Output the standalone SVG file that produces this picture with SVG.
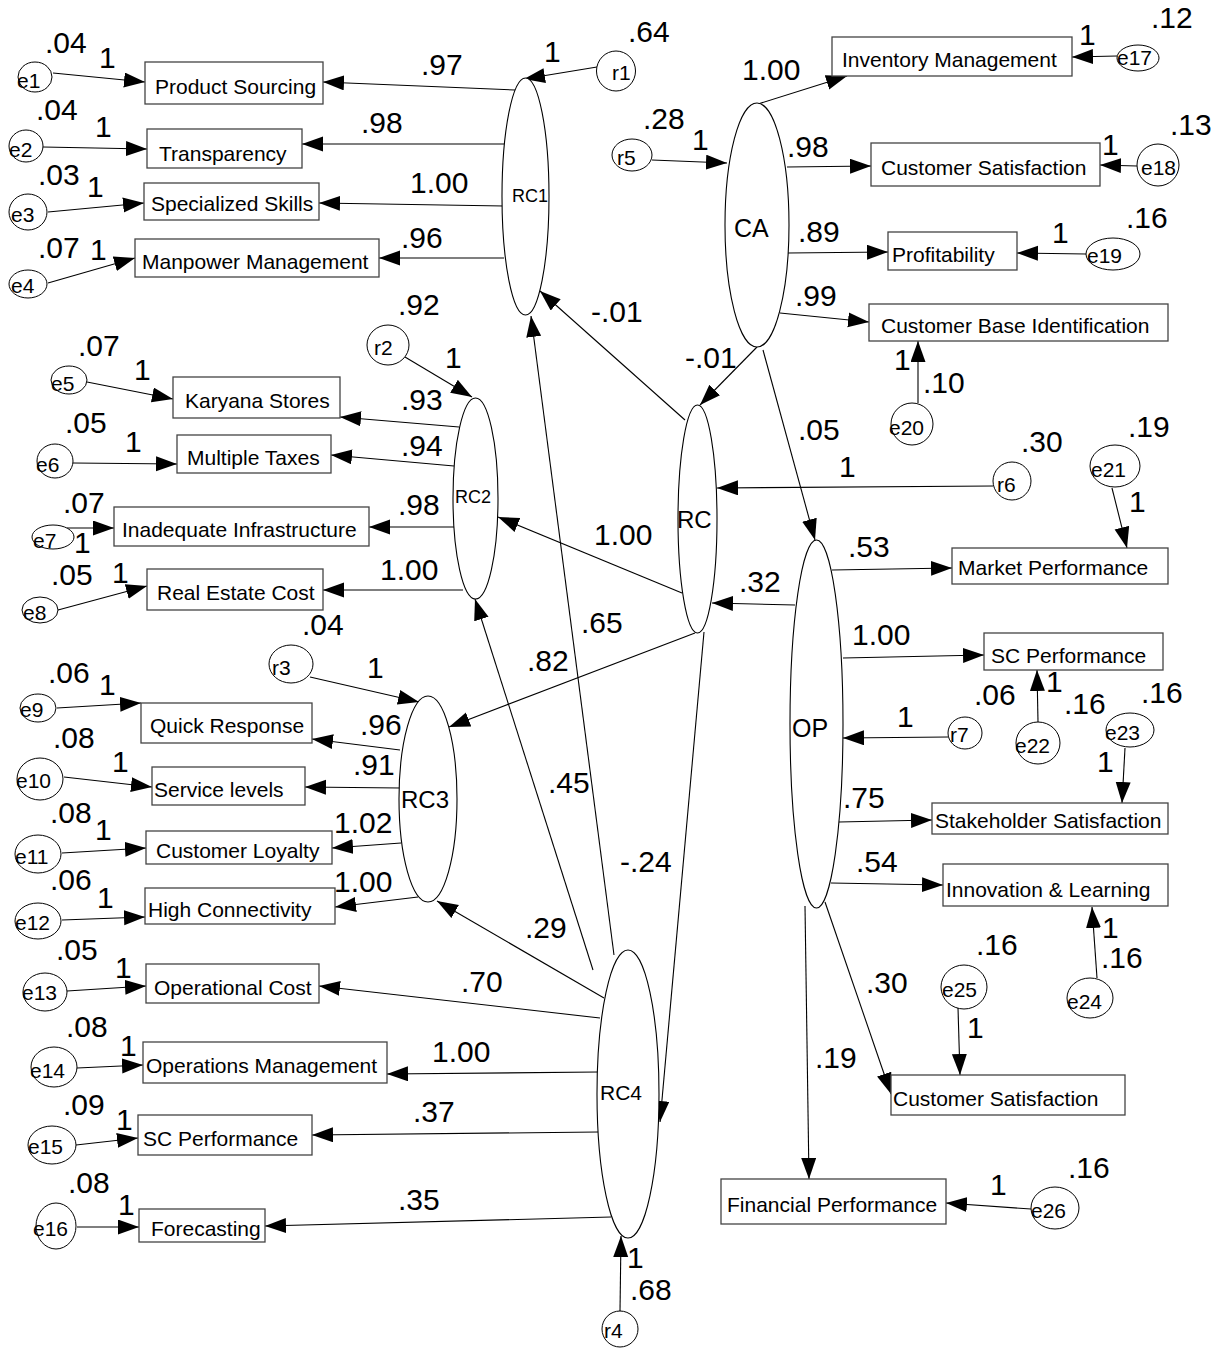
<svg xmlns="http://www.w3.org/2000/svg" width="1228" height="1349" viewBox="0 0 1228 1349">
<style>
.box{fill:#fff;stroke:#444;stroke-width:1.3}
.lat{fill:#fff;stroke:#000;stroke-width:1.1}
.err{fill:#fff;stroke:#000;stroke-width:1}
.edge{stroke:#000;stroke-width:1.1;fill:none;marker-end:url(#ah)}
text{font-family:"Liberation Sans",Arial,sans-serif;fill:#000}
.t{font-size:21px}
.e{font-size:21px}
.n{font-size:30px}
</style>
<defs>
<marker id="ah" markerUnits="userSpaceOnUse" markerWidth="22" markerHeight="16" refX="21" refY="7.5" orient="auto">
<path d="M0,0 L21,7.5 L0,15 z" fill="#000"/>
</marker>
</defs>
<rect width="1228" height="1349" fill="#fff"/>
<g id="connectors">
<line class="edge" x1="53" y1="73" x2="145" y2="82"/>
<line class="edge" x1="43" y1="147" x2="147" y2="149"/>
<line class="edge" x1="48" y1="212" x2="144" y2="203"/>
<line class="edge" x1="48" y1="283" x2="135" y2="258"/>
<line class="edge" x1="515" y1="90" x2="323" y2="82"/>
<line class="edge" x1="504" y1="144" x2="302" y2="144"/>
<line class="edge" x1="504" y1="206" x2="319" y2="203"/>
<line class="edge" x1="504" y1="258" x2="379" y2="258"/>
<line class="edge" x1="597" y1="67" x2="524" y2="79"/>
<line class="edge" x1="652" y1="160" x2="727" y2="163"/>
<line class="edge" x1="758" y1="104" x2="847" y2="76"/>
<line class="edge" x1="787" y1="167" x2="871" y2="166"/>
<line class="edge" x1="788" y1="253" x2="888" y2="252"/>
<line class="edge" x1="780" y1="313" x2="869" y2="322"/>
<line class="edge" x1="1117" y1="56" x2="1072" y2="57"/>
<line class="edge" x1="1137" y1="166" x2="1100" y2="165"/>
<line class="edge" x1="1086" y1="254" x2="1017" y2="253"/>
<line class="edge" x1="918" y1="403" x2="918" y2="341"/>
<line class="edge" x1="757" y1="347" x2="700" y2="405"/>
<line class="edge" x1="685" y1="420" x2="540" y2="291"/>
<line class="edge" x1="682" y1="593" x2="498" y2="517"/>
<line class="edge" x1="993" y1="486" x2="717" y2="488"/>
<line class="edge" x1="1112" y1="488" x2="1127" y2="548"/>
<line class="edge" x1="763" y1="350" x2="815" y2="540"/>
<line class="edge" x1="832" y1="570" x2="952" y2="568"/>
<line class="edge" x1="843" y1="658" x2="984" y2="655"/>
<line class="edge" x1="1038" y1="722" x2="1037" y2="670"/>
<line class="edge" x1="948" y1="737" x2="843" y2="738"/>
<line class="edge" x1="1125" y1="748" x2="1122" y2="803"/>
<line class="edge" x1="839" y1="822" x2="932" y2="820"/>
<line class="edge" x1="831" y1="883" x2="943" y2="885"/>
<line class="edge" x1="1097" y1="978" x2="1092" y2="907"/>
<line class="edge" x1="958" y1="1008" x2="960" y2="1075"/>
<line class="edge" x1="825" y1="902" x2="891" y2="1094"/>
<line class="edge" x1="805" y1="906" x2="809" y2="1179"/>
<line class="edge" x1="1031" y1="1209" x2="946" y2="1203"/>
<line class="edge" x1="795" y1="605" x2="712" y2="603"/>
<line class="edge" x1="405" y1="357" x2="472" y2="397"/>
<line class="edge" x1="459" y1="427" x2="340" y2="417"/>
<line class="edge" x1="454" y1="466" x2="331" y2="455"/>
<line class="edge" x1="454" y1="527" x2="369" y2="527"/>
<line class="edge" x1="463" y1="590" x2="323" y2="590"/>
<line class="edge" x1="87" y1="382" x2="173" y2="399"/>
<line class="edge" x1="73" y1="463" x2="177" y2="464"/>
<line class="edge" x1="67" y1="528" x2="114" y2="528"/>
<line class="edge" x1="58" y1="610" x2="147" y2="586"/>
<line class="edge" x1="310" y1="677" x2="419" y2="702"/>
<line class="edge" x1="695" y1="633" x2="449" y2="727"/>
<line class="edge" x1="400" y1="750" x2="312" y2="739"/>
<line class="edge" x1="400" y1="788" x2="305" y2="787"/>
<line class="edge" x1="401" y1="843" x2="332" y2="848"/>
<line class="edge" x1="418" y1="897" x2="335" y2="907"/>
<line class="edge" x1="57" y1="708" x2="141" y2="703"/>
<line class="edge" x1="64" y1="777" x2="152" y2="787"/>
<line class="edge" x1="62" y1="853" x2="146" y2="848"/>
<line class="edge" x1="62" y1="920" x2="145" y2="917"/>
<line class="edge" x1="620" y1="1311" x2="621" y2="1236"/>
<line class="edge" x1="600" y1="1018" x2="319" y2="986"/>
<line class="edge" x1="598" y1="1072" x2="387" y2="1074"/>
<line class="edge" x1="598" y1="1132" x2="312" y2="1135"/>
<line class="edge" x1="611" y1="1217" x2="265" y2="1226"/>
<line class="edge" x1="67" y1="991" x2="146" y2="986"/>
<line class="edge" x1="77" y1="1068" x2="143" y2="1065"/>
<line class="edge" x1="76" y1="1145" x2="138" y2="1138"/>
<line class="edge" x1="77" y1="1227" x2="139" y2="1227"/>
<line class="edge" x1="604" y1="998" x2="437" y2="901"/>
<line class="edge" x1="593" y1="970" x2="475" y2="599"/>
<line class="edge" x1="614" y1="955" x2="531" y2="316"/>
<line class="edge" x1="704" y1="632" x2="660" y2="1122"/>
</g>
<g id="nodes">
<g id="n-ps"><rect class="box" x="145" y="62" width="178" height="42"/><text class="t" x="155" y="94">Product Sourcing</text></g>
<g id="n-tr"><rect class="box" x="147" y="129" width="155" height="39"/><text class="t" x="159" y="161">Transparency</text></g>
<g id="n-ss"><rect class="box" x="144" y="183" width="175" height="37"/><text class="t" x="151" y="211">Specialized Skills</text></g>
<g id="n-mm"><rect class="box" x="135" y="239" width="244" height="38"/><text class="t" x="142" y="269">Manpower Management</text></g>
<g id="n-im"><rect class="box" x="832" y="37" width="240" height="39"/><text class="t" x="842" y="67">Inventory Management</text></g>
<g id="n-cs"><rect class="box" x="871" y="143" width="229" height="43"/><text class="t" x="881" y="175">Customer Satisfaction</text></g>
<g id="n-pr"><rect class="box" x="888" y="232" width="129" height="38"/><text class="t" x="892" y="262">Profitability</text></g>
<g id="n-cbi"><rect class="box" x="869" y="304" width="299" height="37"/><text class="t" x="881" y="333">Customer Base Identification</text></g>
<g id="n-mp"><rect class="box" x="952" y="548" width="216" height="36"/><text class="t" x="958" y="575">Market Performance</text></g>
<g id="n-scp"><rect class="box" x="984" y="633" width="179" height="37"/><text class="t" x="991" y="663">SC Performance</text></g>
<g id="n-sts"><rect class="box" x="932" y="803" width="236" height="31"/><text class="t" x="935" y="828">Stakeholder Satisfaction</text></g>
<g id="n-il"><rect class="box" x="943" y="864" width="225" height="42"/><text class="t" x="946" y="897">Innovation &amp; Learning</text></g>
<g id="n-cs2"><rect class="box" x="891" y="1075" width="234" height="40"/><text class="t" x="893" y="1106">Customer Satisfaction</text></g>
<g id="n-fp"><rect class="box" x="721" y="1179" width="225" height="45"/><text class="t" x="727" y="1212">Financial Performance</text></g>
<g id="n-ks"><rect class="box" x="173" y="377" width="167" height="41"/><text class="t" x="185" y="408">Karyana Stores</text></g>
<g id="n-mt"><rect class="box" x="177" y="435" width="154" height="38"/><text class="t" x="187" y="465">Multiple Taxes</text></g>
<g id="n-ii"><rect class="box" x="114" y="507" width="255" height="39"/><text class="t" x="122" y="537">Inadequate Infrastructure</text></g>
<g id="n-rec"><rect class="box" x="147" y="569" width="176" height="41"/><text class="t" x="157" y="600">Real Estate Cost</text></g>
<g id="n-qr"><rect class="box" x="141" y="703" width="171" height="40"/><text class="t" x="150" y="733">Quick Response</text></g>
<g id="n-sl"><rect class="box" x="152" y="767" width="153" height="38"/><text class="t" x="154" y="797">Service levels</text></g>
<g id="n-cl"><rect class="box" x="146" y="831" width="186" height="33"/><text class="t" x="156" y="858">Customer Loyalty</text></g>
<g id="n-hc"><rect class="box" x="145" y="888" width="190" height="36"/><text class="t" x="148" y="917">High Connectivity</text></g>
<g id="n-oc"><rect class="box" x="146" y="964" width="173" height="39"/><text class="t" x="154" y="995">Operational Cost</text></g>
<g id="n-om"><rect class="box" x="143" y="1042" width="244" height="41"/><text class="t" x="146" y="1073">Operations Management</text></g>
<g id="n-scp2"><rect class="box" x="138" y="1115" width="174" height="40"/><text class="t" x="143" y="1146">SC Performance</text></g>
<g id="n-fc"><rect class="box" x="139" y="1209" width="126" height="33"/><text class="t" x="151" y="1236">Forecasting</text></g>

<g id="n-rc1"><ellipse class="lat" cx="525.5" cy="196.5" rx="23.5" ry="118.5"/><text x="512" y="202" font-size="18">RC1</text></g>
<g id="n-ca"><ellipse class="lat" cx="757" cy="225" rx="32" ry="122"/><text x="734" y="237" font-size="25">CA</text></g>
<g id="n-rc"><ellipse class="lat" cx="697.5" cy="519" rx="19.5" ry="114"/><text x="677" y="528" font-size="24">RC</text></g>
<g id="n-rc2"><ellipse class="lat" cx="475.5" cy="498.5" rx="22.5" ry="100.5"/><text x="455" y="503" font-size="18">RC2</text></g>
<g id="n-rc3"><ellipse class="lat" cx="428" cy="799" rx="29" ry="103"/><text x="401" y="808" font-size="24">RC3</text></g>
<g id="n-op"><ellipse class="lat" cx="816.5" cy="724" rx="26.5" ry="184"/><text x="792" y="737" font-size="25">OP</text></g>
<g id="n-rc4"><ellipse class="lat" cx="628" cy="1094" rx="31" ry="144"/><text x="600" y="1100" font-size="21">RC4</text></g>

<g id="n-e1"><ellipse class="err" cx="35" cy="77" rx="17" ry="15"/><text class="e" x="17" y="88">e1</text></g>
<g id="n-e2"><ellipse class="err" cx="26" cy="146" rx="17" ry="16"/><text class="e" x="9" y="157">e2</text></g>
<g id="n-e3"><ellipse class="err" cx="28" cy="212" rx="19" ry="18"/><text class="e" x="11" y="222">e3</text></g>
<g id="n-e4"><ellipse class="err" cx="28" cy="284" rx="19" ry="14"/><text class="e" x="11" y="293">e4</text></g>
<g id="n-r1"><ellipse class="err" cx="616" cy="71" rx="19.5" ry="20"/><text class="e" x="612" y="80">r1</text></g>
<g id="n-r5"><ellipse class="err" cx="632" cy="155" rx="20" ry="16"/><text class="e" x="617" y="165">r5</text></g>
<g id="n-e17"><ellipse class="err" cx="1138" cy="58" rx="21" ry="13"/><text class="e" x="1117" y="65">e17</text></g>
<g id="n-e18"><ellipse class="err" cx="1158" cy="165" rx="21" ry="21"/><text class="e" x="1141" y="175">e18</text></g>
<g id="n-e19"><ellipse class="err" cx="1113" cy="254" rx="27" ry="16"/><text class="e" x="1087" y="263">e19</text></g>
<g id="n-e20"><ellipse class="err" cx="912" cy="424" rx="21" ry="21"/><text class="e" x="889" y="435">e20</text></g>
<g id="n-r6"><ellipse class="err" cx="1012" cy="481" rx="19" ry="19"/><text class="e" x="997" y="492">r6</text></g>
<g id="n-e21"><ellipse class="err" cx="1115" cy="466" rx="25" ry="21"/><text class="e" x="1091" y="477">e21</text></g>
<g id="n-r2"><ellipse class="err" cx="388" cy="345" rx="21" ry="20"/><text class="e" x="374" y="355">r2</text></g>
<g id="n-e5"><ellipse class="err" cx="69" cy="380" rx="18" ry="14"/><text class="e" x="51" y="391">e5</text></g>
<g id="n-e6"><ellipse class="err" cx="55" cy="461" rx="18" ry="17"/><text class="e" x="36" y="472">e6</text></g>
<g id="n-e7"><ellipse class="err" cx="53" cy="537" rx="21" ry="12"/><text class="e" x="33" y="548">e7</text></g>
<g id="n-e8"><ellipse class="err" cx="40" cy="610" rx="18" ry="13"/><text class="e" x="23" y="620">e8</text></g>
<g id="n-r3"><ellipse class="err" cx="291" cy="664" rx="22" ry="19"/><text class="e" x="272" y="675">r3</text></g>
<g id="n-e9"><ellipse class="err" cx="38" cy="708" rx="18" ry="14"/><text class="e" x="20" y="717">e9</text></g>
<g id="n-e10"><ellipse class="err" cx="40" cy="779" rx="23" ry="21"/><text class="e" x="16" y="788">e10</text></g>
<g id="n-e11"><ellipse class="err" cx="38" cy="854" rx="23" ry="19"/><text class="e" x="15" y="864">e11</text></g>
<g id="n-e12"><ellipse class="err" cx="38" cy="921" rx="23" ry="18"/><text class="e" x="15" y="930">e12</text></g>
<g id="n-e13"><ellipse class="err" cx="45" cy="992" rx="22" ry="19"/><text class="e" x="22" y="1000">e13</text></g>
<g id="n-e14"><ellipse class="err" cx="54" cy="1067" rx="23" ry="20"/><text class="e" x="30" y="1078">e14</text></g>
<g id="n-e15"><ellipse class="err" cx="52" cy="1145" rx="24" ry="19"/><text class="e" x="28" y="1154">e15</text></g>
<g id="n-e16"><ellipse class="err" cx="56" cy="1226" rx="20" ry="23"/><text class="e" x="33" y="1236">e16</text></g>
<g id="n-r7"><ellipse class="err" cx="965" cy="733" rx="17" ry="16"/><text class="e" x="950" y="742">r7</text></g>
<g id="n-e22"><ellipse class="err" cx="1038" cy="743" rx="22" ry="21"/><text class="e" x="1015" y="753">e22</text></g>
<g id="n-e23"><ellipse class="err" cx="1130" cy="730" rx="24" ry="17"/><text class="e" x="1105" y="740">e23</text></g>
<g id="n-e24"><ellipse class="err" cx="1090" cy="998" rx="23" ry="20"/><text class="e" x="1067" y="1009">e24</text></g>
<g id="n-e25"><ellipse class="err" cx="964" cy="987" rx="23" ry="22"/><text class="e" x="942" y="997">e25</text></g>
<g id="n-e26"><ellipse class="err" cx="1055" cy="1208" rx="24" ry="21"/><text class="e" x="1031" y="1218">e26</text></g>
<g id="n-r4"><ellipse class="err" cx="620" cy="1329" rx="18" ry="18"/><text class="e" x="604" y="1338">r4</text></g>
</g>
<g id="labels">
<text class="n" x="45" y="53">.04</text><text class="n" x="99" y="68">1</text>
<text class="n" x="36" y="120">.04</text><text class="n" x="95" y="137">1</text>
<text class="n" x="38" y="185">.03</text><text class="n" x="87" y="197">1</text>
<text class="n" x="38" y="258">.07</text><text class="n" x="90" y="260">1</text>
<text class="n" x="421" y="75">.97</text>
<text class="n" x="361" y="133">.98</text>
<text class="n" x="410" y="193">1.00</text>
<text class="n" x="401" y="248">.96</text>
<text class="n" x="544" y="62">1</text><text class="n" x="628" y="42">.64</text>
<text class="n" x="643" y="129">.28</text><text class="n" x="692" y="150">1</text>
<text class="n" x="742" y="80">1.00</text>
<text class="n" x="787" y="157">.98</text>
<text class="n" x="798" y="242">.89</text>
<text class="n" x="795" y="306">.99</text>
<text class="n" x="1079" y="45">1</text><text class="n" x="1151" y="28">.12</text>
<text class="n" x="1102" y="155">1</text><text class="n" x="1170" y="135">.13</text>
<text class="n" x="1052" y="243">1</text><text class="n" x="1126" y="228">.16</text>
<text class="n" x="894" y="370">1</text><text class="n" x="923" y="393">.10</text>
<text class="n" x="685" y="368">-.01</text>
<text class="n" x="591" y="322">-.01</text>
<text class="n" x="594" y="545">1.00</text>
<text class="n" x="839" y="477">1</text><text class="n" x="1021" y="452">.30</text>
<text class="n" x="1129" y="512">1</text><text class="n" x="1128" y="437">.19</text>
<text class="n" x="798" y="440">.05</text>
<text class="n" x="848" y="557">.53</text>
<text class="n" x="852" y="645">1.00</text>
<text class="n" x="1046" y="692">1</text><text class="n" x="1064" y="714">.16</text><text class="n" x="974" y="705">.06</text>
<text class="n" x="897" y="727">1</text>
<text class="n" x="1097" y="772">1</text><text class="n" x="1141" y="703">.16</text>
<text class="n" x="843" y="808">.75</text>
<text class="n" x="856" y="872">.54</text>
<text class="n" x="1102" y="938">1</text><text class="n" x="1101" y="968">.16</text>
<text class="n" x="967" y="1038">1</text><text class="n" x="976" y="955">.16</text>
<text class="n" x="866" y="993">.30</text>
<text class="n" x="815" y="1068">.19</text>
<text class="n" x="990" y="1195">1</text><text class="n" x="1068" y="1178">.16</text>
<text class="n" x="739" y="592">.32</text>
<text class="n" x="398" y="315">.92</text><text class="n" x="445" y="368">1</text>
<text class="n" x="401" y="410">.93</text>
<text class="n" x="401" y="456">.94</text>
<text class="n" x="398" y="515">.98</text>
<text class="n" x="380" y="580">1.00</text>
<text class="n" x="78" y="356">.07</text><text class="n" x="134" y="380">1</text>
<text class="n" x="65" y="433">.05</text><text class="n" x="125" y="452">1</text>
<text class="n" x="63" y="513">.07</text><text class="n" x="74" y="553">1</text>
<text class="n" x="51" y="585">.05</text><text class="n" x="112" y="583">1</text>
<text class="n" x="302" y="635">.04</text>
<text class="n" x="367" y="678">1</text>
<text class="n" x="527" y="671">.82</text>
<text class="n" x="581" y="633">.65</text>
<text class="n" x="548" y="793">.45</text>
<text class="n" x="620" y="872">-.24</text>
<text class="n" x="525" y="938">.29</text>
<text class="n" x="360" y="735">.96</text>
<text class="n" x="353" y="775">.91</text>
<text class="n" x="334" y="833">1.02</text>
<text class="n" x="334" y="892">1.00</text>
<text class="n" x="48" y="683">.06</text><text class="n" x="99" y="695">1</text>
<text class="n" x="53" y="748">.08</text><text class="n" x="112" y="772">1</text>
<text class="n" x="50" y="823">.08</text><text class="n" x="95" y="840">1</text>
<text class="n" x="50" y="890">.06</text><text class="n" x="97" y="908">1</text>
<text class="n" x="56" y="960">.05</text><text class="n" x="115" y="978">1</text>
<text class="n" x="66" y="1037">.08</text><text class="n" x="120" y="1056">1</text>
<text class="n" x="63" y="1115">.09</text><text class="n" x="116" y="1130">1</text>
<text class="n" x="68" y="1193">.08</text><text class="n" x="118" y="1215">1</text>
<text class="n" x="461" y="992">.70</text>
<text class="n" x="432" y="1062">1.00</text>
<text class="n" x="413" y="1122">.37</text>
<text class="n" x="398" y="1210">.35</text>
<text class="n" x="627" y="1268">1</text><text class="n" x="630" y="1300">.68</text>
</g>
</svg>
